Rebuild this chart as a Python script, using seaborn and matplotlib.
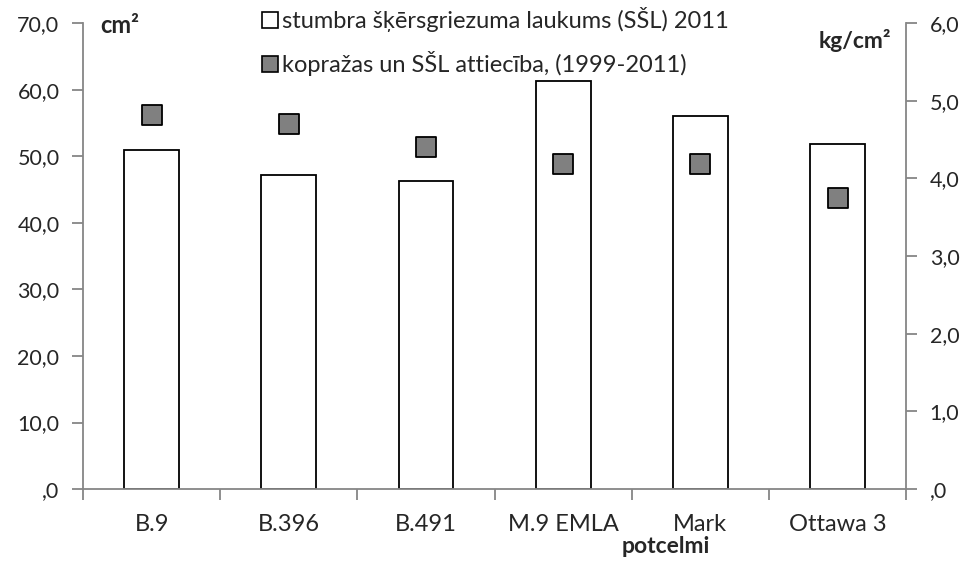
import pandas as pd
import seaborn as sns
import matplotlib.pyplot as plt
from matplotlib.ticker import FuncFormatter, FixedLocator
from matplotlib.lines import Line2D

# data
rootstocks = ['B.9', 'B.396', 'B.491', 'M.9 EMLA', 'Mark', 'Ottawa 3']
area_cm2 = [51.0, 47.2, 46.3, 61.3, 56.0, 51.9]        # stumbra šķērsgriezuma laukums
yield_ratio = [4.81, 4.70, 4.41, 4.19, 4.18, 3.75]     # kopražas un SŠL attiecība
left_ticks = [0, 10, 20, 30, 40, 50, 60, 70]
right_ticks = [0, 1, 2, 3, 4, 5, 6]

df = pd.DataFrame({'potcelmi': rootstocks, 'area': area_cm2, 'ratio': yield_ratio})

sns.set_style('white')
plt.rcParams['font.family'] = ['Lato', 'DejaVu Sans']

spine_col = '#868686'
fs_y = 15.5
fs_x = 17

fig = plt.figure(figsize=(9.66, 5.61), dpi=100)
ax = fig.add_axes([0.086, 0.128, 0.852, 0.831])

sns.barplot(data=df, x='potcelmi', y='area', color='white', edgecolor='black',
            linewidth=1.3, width=0.4, ax=ax)
ax.set_xlim(-0.5, 5.5)
ax.set_ylim(0, 70)

ax2 = ax.twinx()
sns.scatterplot(data=df, x='potcelmi', y='ratio', marker='s', s=200, color='#808080',
                edgecolor='black', linewidth=1.3, ax=ax2, zorder=5)
ax2.set_ylim(0, 6)
ax2.set_xlim(-0.5, 5.5)

def comma_fmt(v, pos):
    s = f'{v:.1f}'.replace('.', ',')
    return ',0' if v == 0 else s

ax.yaxis.set_major_locator(FixedLocator(left_ticks))
ax2.yaxis.set_major_locator(FixedLocator(right_ticks))
ax.yaxis.set_major_formatter(FuncFormatter(comma_fmt))
ax2.yaxis.set_major_formatter(FuncFormatter(comma_fmt))

for a in (ax, ax2):
    a.spines['top'].set_visible(False)
    for s in ('left', 'right', 'bottom'):
        a.spines[s].set_color(spine_col)
        a.spines[s].set_linewidth(1.3)
    a.set_ylabel('')
    a.set_xlabel('')

ax.spines['right'].set_visible(False)
ax2.spines['left'].set_visible(False)
ax2.spines['bottom'].set_visible(False)

ax.tick_params(axis='y', which='major', length=8, width=1.3, color=spine_col,
               labelsize=fs_y, pad=9, direction='out', left=True)
ax2.tick_params(axis='y', which='major', length=8, width=1.3, color=spine_col,
                labelsize=fs_y, pad=9, direction='out', right=True)

ax.set_xticks(range(len(rootstocks)))
ax.set_xticklabels(rootstocks)
ax.xaxis.set_minor_locator(FixedLocator([i - 0.5 for i in range(len(rootstocks) + 1)]))
ax.tick_params(axis='x', which='major', length=0, labelsize=fs_x, pad=18)
ax.tick_params(axis='x', which='minor', length=8, width=1.3, color=spine_col,
               direction='out', bottom=True)
ax2.tick_params(axis='x', which='both', length=0, labelbottom=False)

fig.text(0.689, 0.014, 'potcelmi', ha='center', va='baseline', fontsize=16.5, fontweight='bold')
fig.text(0.104, 0.955, 'cm²', ha='left', va='center', fontsize=17, fontweight='bold')
fig.text(0.922, 0.928, 'kg/cm²', ha='right', va='center', fontsize=16.5, fontweight='bold')

handles = [
    Line2D([], [], linestyle='none', marker='s', markersize=11.5, markerfacecolor='white',
           markeredgecolor='black', markeredgewidth=1.2),
    Line2D([], [], linestyle='none', marker='s', markersize=11.5, markerfacecolor='#808080',
           markeredgecolor='black', markeredgewidth=1.2),
]
labels = ['stumbra šķērsgriezuma laukums (SŠL) 2011', 'kopražas un SŠL attiecība, (1999-2011)']
fig.legend(handles, labels, loc='upper left', bbox_to_anchor=(0.259, 1.004), frameon=False,
           fontsize=17, handletextpad=0.05, handlelength=0.9, labelspacing=0.8,
           borderaxespad=0)

fig.savefig('out.png', dpi=100, facecolor='white')
